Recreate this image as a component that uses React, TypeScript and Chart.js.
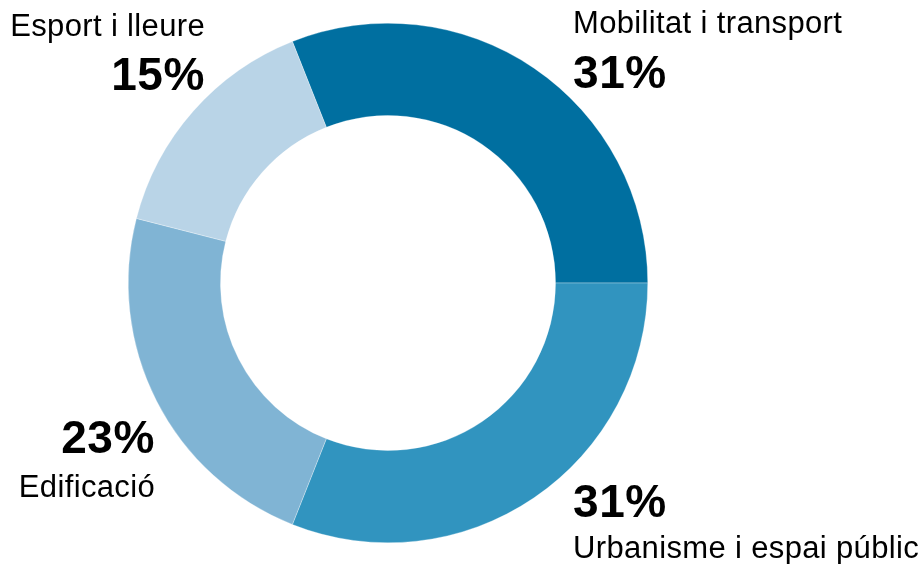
import React, { useEffect, useRef } from "react";
import { Chart, registerables } from "chart.js";

Chart.register(...registerables);

const categories = ["Mobilitat i transport", "Urbanisme i espai públic", "Edificació", "Esport i lleure"];
const shares = [31, 31, 23, 15];
const sliceColors = ["#006fa0", "#3194bf", "#80b4d4", "#b9d4e7"];

// label layout: [x, nameBaseline, pctBaseline, align]
const labelLayout: [number, number, number, CanvasTextAlign][] = [
  [573, 33, 88, "left"],
  [573, 558, 517, "left"],
  [155, 497, 453, "right"],
  [205, 36, 90, "right"],
];

const FONT = '"Liberation Sans", Arial, Helvetica, sans-serif';

const labelPlugin = {
  id: "outerLabels",
  afterDraw(chart: any) {
    const ctx = chart.ctx as any;
    ctx.save();
    ctx.fillStyle = "#000";
    categories.forEach((name, i) => {
      const [x, yName, yPct, align] = labelLayout[i];
      ctx.textAlign = align;
      ctx.textBaseline = "alphabetic";
      ctx.font = `31px ${FONT}`;
      ctx.letterSpacing = "0.35px";
      ctx.fillText(name, x, yName);
      ctx.font = `bold 46px ${FONT}`;
      ctx.letterSpacing = "0.6px";
      ctx.fillText(`${shares[i]}%`, x, yPct);
    });
    ctx.restore();
  },
};

export default function App() {
  const ref = useRef<HTMLCanvasElement | null>(null);
  useEffect(() => {
    if (!ref.current) return;
    const chart = new Chart(ref.current, {
      type: "doughnut",
      data: {
        labels: categories,
        datasets: [
          {
            data: shares,
            backgroundColor: sliceColors,
            borderColor: "rgba(255,255,255,0.6)",
            borderWidth: 0.5,
          },
        ],
      },
      options: {
        responsive: false,
        animation: false,
        devicePixelRatio: 1,
        rotation: -21.6,
        cutout: "64.5%",
        layout: { padding: { top: 23, bottom: 21, left: 128, right: 276 } },
        plugins: {
          legend: { display: false },
          tooltip: { enabled: false },
        },
      },
      plugins: [labelPlugin],
    });
    return () => chart.destroy();
  }, []);
  return (
    <div style={{ position: "fixed", left: 0, top: 0, width: 924, height: 564, background: "#fff" }}>
      <canvas ref={ref} width={924} height={564} style={{ display: "block" }} />
    </div>
  );
}
